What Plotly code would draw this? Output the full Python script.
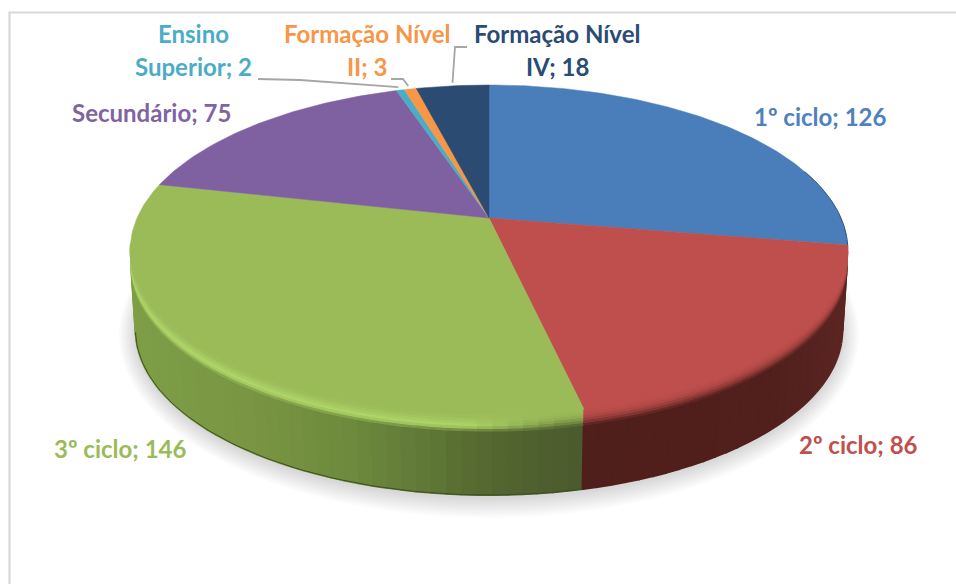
import numpy as np
import plotly.graph_objects as go

# ---------- data ----------
categories = ["1º ciclo", "2º ciclo", "3º ciclo", "Secundário", "Ensino Superior",
              "Formação Nível II", "Formação Nível IV"]
values = [126, 86, 146, 75, 2, 3, 18]
top_colors = ["#4a7ebb", "#be4f4c", "#9bbb59", "#7f60a0", "#4bacc6", "#f79646", "#2b4b73"]
label_colors = ["#4f81bd", "#c0504d", "#9bbb59", "#8064a2", "#4bacc6", "#f79646", "#2a4b75"]
first_line_words = [0, 0, 0, 0, 1, 2, 2]

# ---------- projection of the tilted disc ----------
CX, CY = 489.0, 218.0
K, A, C = 352.0, -116.5, 0.194
DEPTH = 80.0
BOTTOM_SCALE = 0.985
BEVEL = 0.2


def top_xy(theta):
    u, v = np.sin(theta), np.cos(theta)
    den = 1 + C * v
    return CX + K * u / den, (A * v + CY) / den


def side_xy(theta, t):
    x, y = top_xy(theta)
    xb = CX + (x - CX) * (1 - (1 - BOTTOM_SCALE) * t)
    return xb, y + DEPTH * t


def hex_rgb(h):
    return np.array([int(h[i:i + 2], 16) for i in (1, 3, 5)], float)


def to_css(c):
    return "rgb(%d,%d,%d)" % tuple(np.clip(c, 0, 255))


def poly(xs, ys, color, lw=1.4, outline=True):
    return go.Scatter(x=list(xs), y=list(ys), mode="lines", fill="toself", fillcolor=color,
                      line=dict(color=color if outline else "rgba(0,0,0,0)", width=lw),
                      hoverinfo="skip", showlegend=False)


total = sum(values)
edges = np.cumsum([0] + values) / total * 2 * np.pi
traces = []

# soft shadow under the disc
arc = np.linspace(0, 2 * np.pi, 241)
bx, by = side_xy(arc, 1.0)
for e in np.linspace(20, 1, 13):
    sx = CX + (bx - CX) * (1 + e / 420)
    sy = 315 + (by - 315) * (1 + e / 180) + 3
    traces.append(poly(sx, sy, "rgba(0,0,0,0.012)", outline=False))

# sidewall and bevel of the two front slices
green_x = [120, 250, 350, 400, 480, 540, 590]
green_c = ["#7f9f47", "#7a9644", "#6d8a3d", "#657f3a", "#566a31", "#4f6030", "#4b5a2d"]
red_x = [580, 780, 850]
red_c = ["#4f1f1b", "#52201d", "#5c2623"]
highlight = hex_rgb("#b5de6d")


def ramp(x, xs, cs):
    arr = np.array([hex_rgb(c) for c in cs])
    return np.array([np.interp(x, xs, arr[:, i]) for i in range(3)])


wall_traces, bevel_traces = [], []
for idx, (xs_k, cs_k) in {2: (green_x, green_c), 1: (red_x, red_c)}.items():
    a0, a1 = edges[idx], edges[idx + 1]
    if idx == 2:
        a1 = np.radians(261)
    n = max(2, int(np.degrees(a1 - a0) / 2))
    th = np.linspace(a0, a1, n + 1)
    for i in range(n):
        fine = np.linspace(th[i], th[i + 1], 4)
        xm = top_xy((th[i] + th[i + 1]) / 2)[0]
        wall = ramp(xm, xs_k, cs_k)
        x0, y0 = side_xy(fine, BEVEL)
        x1, y1 = side_xy(fine[::-1], 1.0)
        wall_traces.append(poly(np.r_[x0, x1], np.r_[y0, y1], to_css(wall), lw=2))
        tc = hex_rgb(top_colors[idx])
        w = 0.0
        if idx == 2:
            w = float(np.clip((560 - xm) / 90, 0, 1))
        bands = np.linspace(0, BEVEL, 7)
        for b in range(5, -1, -1):
            f = (b + 0.5) / 6
            base = tc + (wall - tc) * f ** 2.2
            hl = f / 0.65 if f < 0.65 else (1 - f) / 0.35
            col = base + (highlight - base) * w * hl * 0.9
            xa, ya = side_xy(fine, bands[b])
            xb, yb = side_xy(fine[::-1], bands[b + 1])
            bevel_traces.append((b, poly(np.r_[xa, xb], np.r_[ya, yb], to_css(col), lw=1.2)))

traces += wall_traces
traces += [t for b, t in sorted(bevel_traces, key=lambda p: -p[0])]

# dark lower edge of the sidewall
th = np.linspace(edges[2], np.radians(258), 80)
ex, ey = side_xy(th, 1.0)
traces.append(go.Scatter(x=ex, y=ey, mode="lines", line=dict(color="#3f4f22", width=1),
                         hoverinfo="skip", showlegend=False))

# top face
for i in range(len(values)):
    th = np.linspace(edges[i], edges[i + 1], max(3, int(np.degrees(edges[i + 1] - edges[i]))))
    x, y = top_xy(th)
    traces.append(poly(np.r_[CX, x, CX], np.r_[CY, y, CY], top_colors[i], lw=0.5))

# thin dark rim on the right of the first slice
th = np.linspace(np.radians(72), edges[1], 30)
rx, ry = top_xy(th)
traces.append(go.Scatter(x=rx, y=ry, mode="lines", line=dict(color="#2f5683", width=1),
                         hoverinfo="skip", showlegend=False))

fig = go.Figure(traces)

# ---------- data labels ----------
label_centers = [(820, 116), (858, 444), (120, 448), (151, 112), (193, 33), (367, 33), (557, 33)]
LINE_GAP = 33
annotations = []
for cat, val, col, nw, (lx, ly) in zip(categories, values, label_colors, first_line_words, label_centers):
    words = cat.split(" ")
    lines = [f"{cat}; {val}"] if nw == 0 else [" ".join(words[:nw]), " ".join(words[nw:]) + f"; {val}"]
    for j, line in enumerate(lines):
        annotations.append(dict(x=lx, y=ly + j * LINE_GAP, xref="x", yref="y", text=line,
                                showarrow=False, xanchor="center", yanchor="middle",
                                font=dict(family="Lato", size=24, color=col, weight="bold")))

# ---------- leader lines ----------
mids = (edges[:-1] + edges[1:]) / 2
leaders = {4: [(258, 79), (300, 80)], 5: [(391, 79), (403, 79)], 6: [(467, 47), (455, 47)]}
shapes = []
for i, pts in leaders.items():
    ax, ay = top_xy(mids[i])
    path = [*pts, (ax - 2 if i != 6 else ax, ay - 3)]
    d = "M " + " L ".join(f"{p[0]:.1f},{p[1]:.1f}" for p in path)
    shapes.append(dict(type="path", path=d, xref="x", yref="y",
                       line=dict(color="#a6a6a6", width=1.8)))

# chart frame
shapes.append(dict(type="path", path="M 9.5,584 L 9.5,12.5 L 956,12.5", xref="x", yref="y",
                   line=dict(color="#d9d9d9", width=2.2)))

fig.update_layout(width=956, height=584, margin=dict(l=0, r=0, t=0, b=0),
                  paper_bgcolor="white", plot_bgcolor="white", showlegend=False,
                  annotations=annotations, shapes=shapes,
                  xaxis=dict(range=[0, 956], visible=False, fixedrange=True),
                  yaxis=dict(range=[584, 0], visible=False, fixedrange=True))

fig.write_html("out.html", config={"displayModeBar": False},
               post_script="document.body.style.margin='0';document.body.style.overflow='hidden';")
